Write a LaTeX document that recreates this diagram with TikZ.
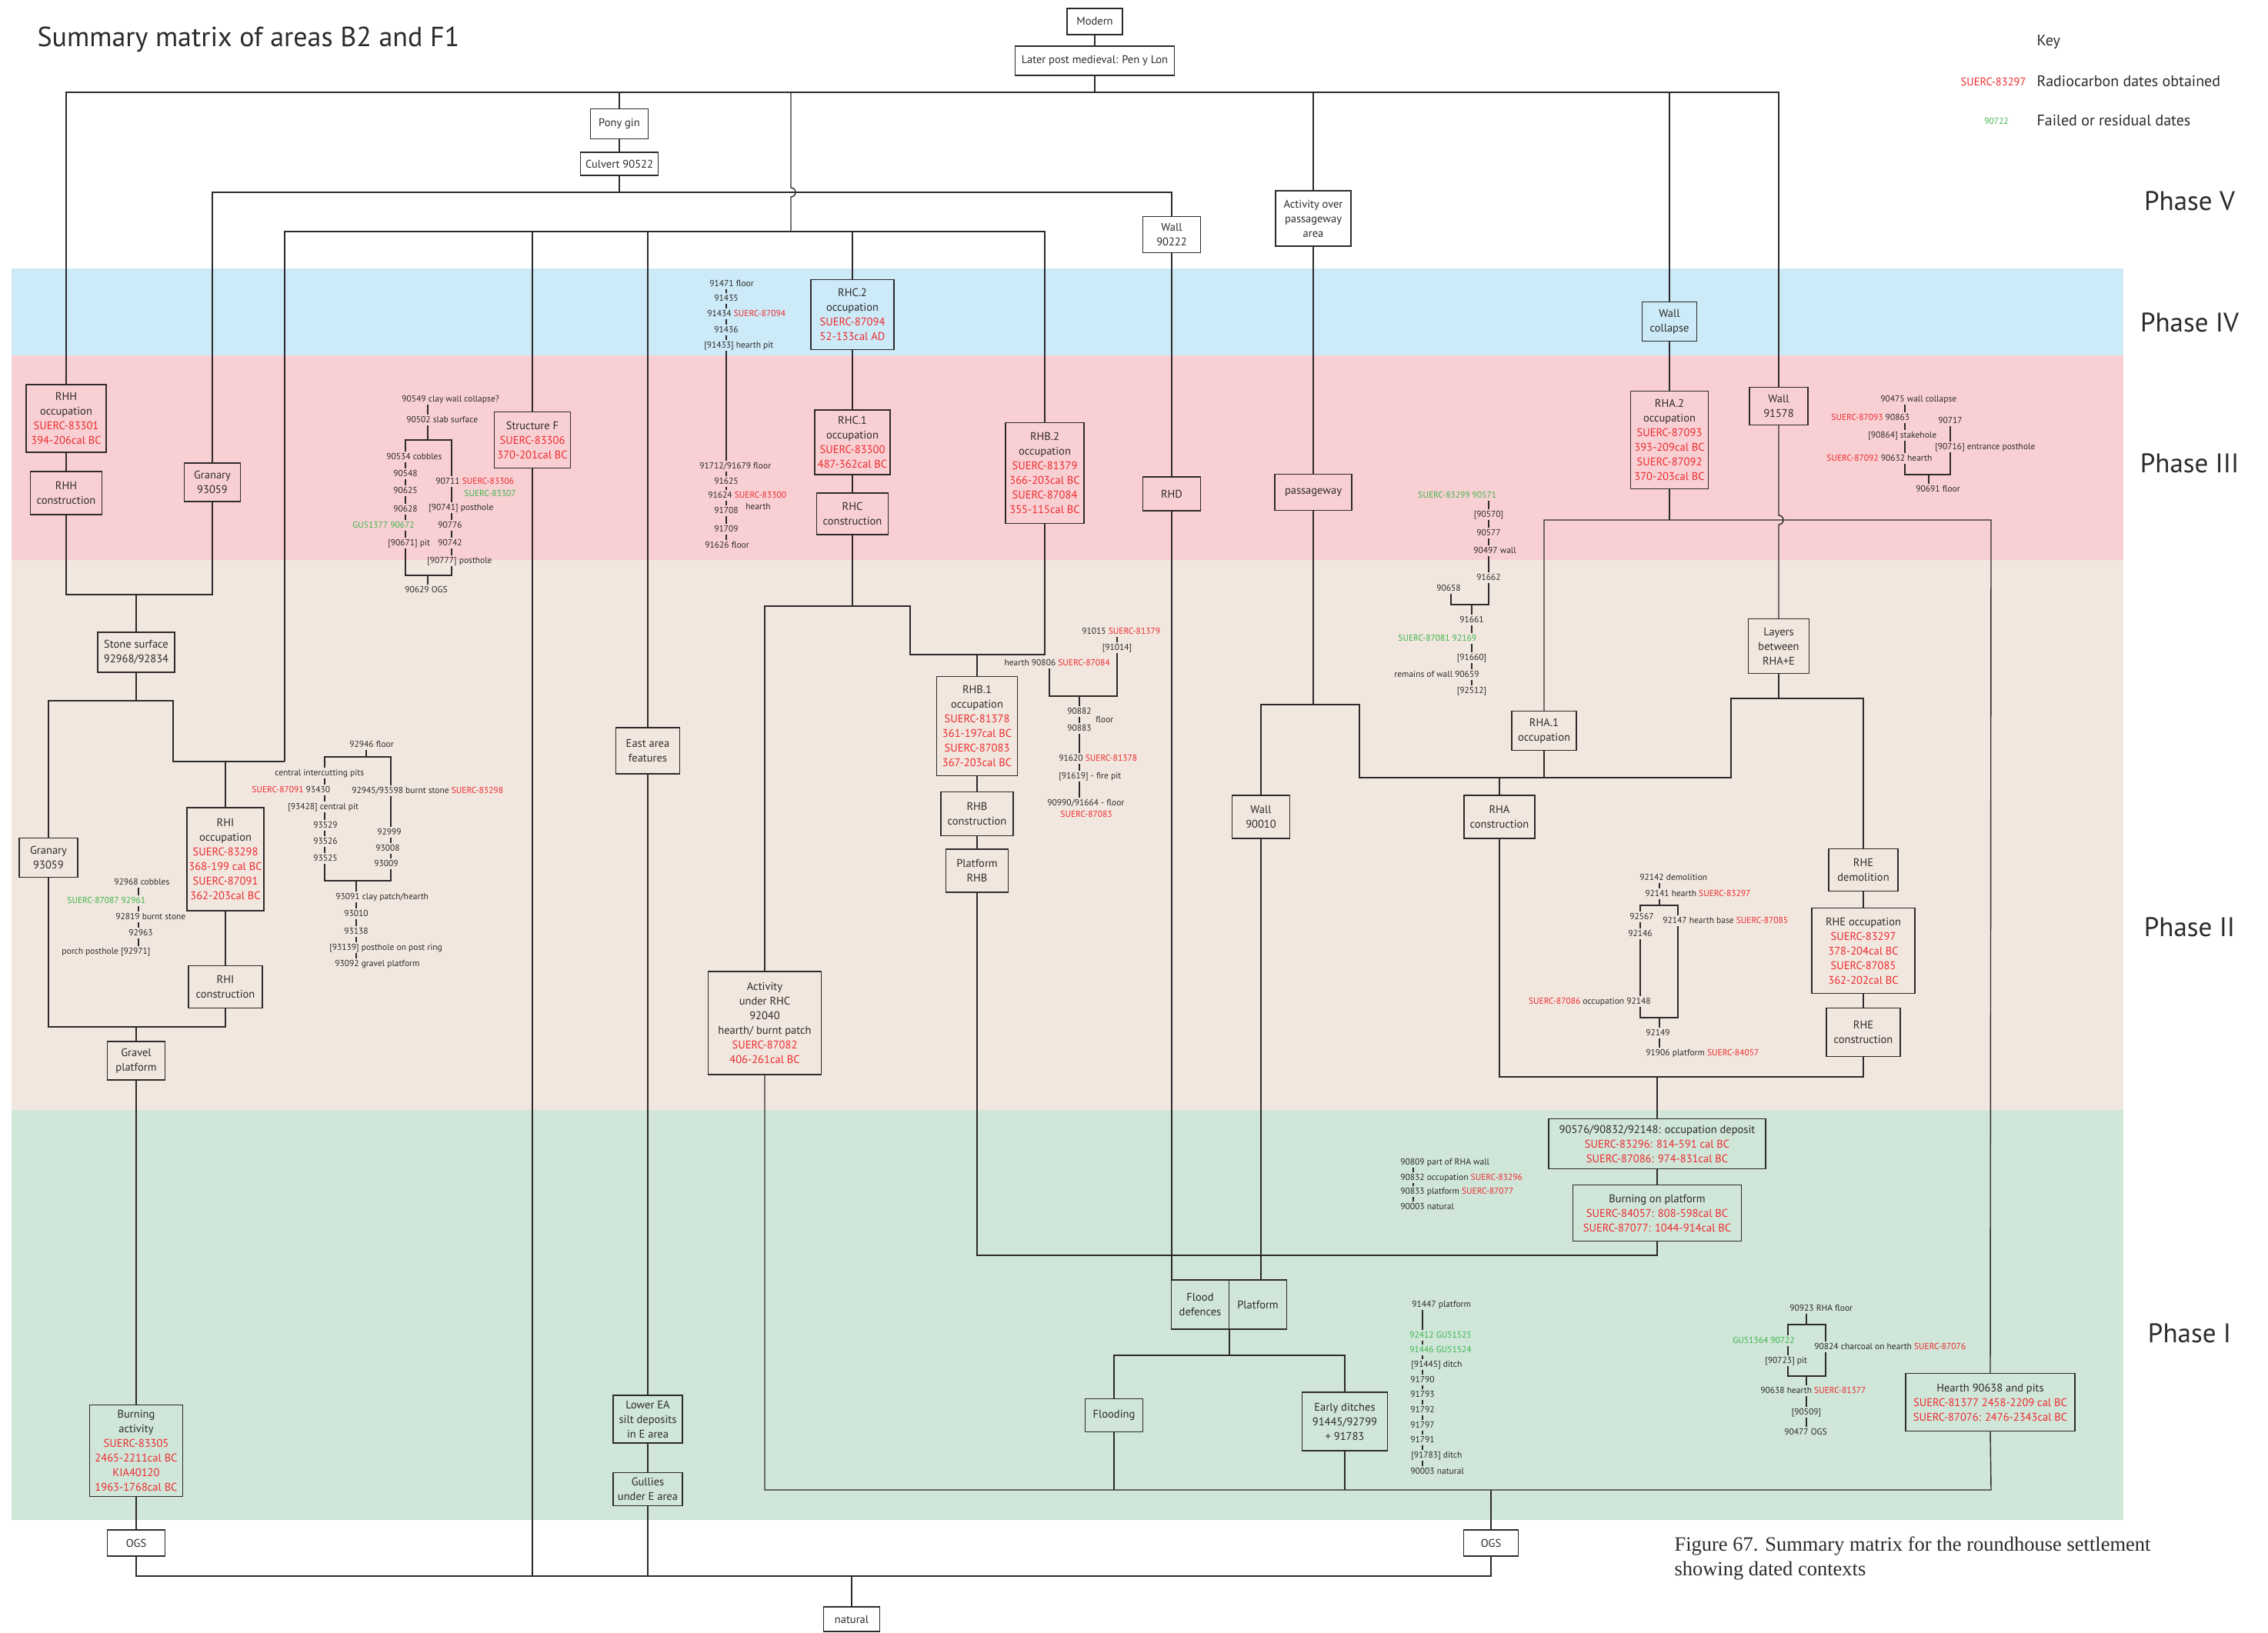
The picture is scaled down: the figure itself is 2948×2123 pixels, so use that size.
\documentclass[tikz,border=0pt]{standalone}
\usepackage{fontspec}
\setmainfont{PT Sans}
\newfontfamily\capfont{Liberation Serif}
\usetikzlibrary{calc}
\definecolor{bandblue}{HTML}{CCEAF7}
\definecolor{bandpink}{HTML}{F8D0D3}
\definecolor{bandbeige}{HTML}{F1E7DF}
\definecolor{bandgreen}{HTML}{CFE6D9}
\definecolor{dred}{HTML}{EE2A2E}
\definecolor{dgreen}{HTML}{3DB54A}
\definecolor{ink}{HTML}{2E2A2B}
\newcommand{\redtx}[1]{\textcolor{dred}{#1}}
\newcommand{\grtx}[1]{\textcolor{dgreen}{#1}}
\newcommand{\vchain}[2]{\foreach \p/\q in {#2}{\draw[lnt] (#1 |- \p.south) -- (#1 |- \q.north);}}
\pgfdeclarelayer{bg}
\pgfsetlayers{bg,main}
\tikzset{
  bx/.style={draw=ink, line width=1.4pt, align=center, text=ink, inner sep=0pt,
    font=\fontsize{14.5}{19}\selectfont},
  sm/.style={font=\fontsize{11.5}{14}\selectfont, text=ink, inner sep=1.2pt,
    text height=8.5pt, text depth=2.5pt},
  ln/.style={draw=ink, line width=1.4pt},
  lnt/.style={draw=ink, line width=1.2pt},
  phase/.style={font=\fontsize{35}{40}\selectfont, text=ink},
}
\begin{document}
\begin{tikzpicture}[x=1pt,y=-1pt]
\useasboundingbox (0,0) rectangle (2948,2123);
\begin{pgfonlayer}{bg}
\fill[white] (0,0) rectangle (2948,2123);
\fill[bandblue] (15,349) rectangle (2760,462);
\fill[bandpink] (15,462) rectangle (2760,728);
\fill[bandbeige] (15,728) rectangle (2760,1443);
\fill[bandgreen] (15,1443) rectangle (2760,1976);
\end{pgfonlayer}

% ---------- titles, key, phases ----------
\node[anchor=west, font=\fontsize{36}{40}\selectfont, text=ink] (title) at (45,51) {Summary matrix of areas B2 and F1};
\node[anchor=west, font=\fontsize{20}{24}\selectfont, text=ink] (key) at (2644,55) {Key};
\node[anchor=west, font=\fontsize{20}{24}\selectfont, text=ink] (keyA) at (2644,106) {Radiocarbon dates obtained};
\node[anchor=west, font=\fontsize{20}{24}\selectfont, text=ink] (keyB) at (2644,157) {Failed or residual dates};
\node[anchor=east, font=\fontsize{14.5}{18}\selectfont, text=dred] (keyAs) at (2637,106) {SUERC-83297};
\node[font=\fontsize{11.5}{14}\selectfont, text=dgreen] (keyBs) at (2595,157) {90722};
\node[phase] (phV) at (2846,261) {Phase V};
\node[phase] (phIV) at (2846,419) {Phase IV};
\node[phase] (phIII) at (2846,602) {Phase III};
\node[phase] (phII) at (2846,1205) {Phase II};
\node[phase] (phI) at (2846,1733) {Phase I};
\node[anchor=west, align=left, font=\capfont\fontsize{26.5}{32}\selectfont, text=ink] (caption) at (2173,2026)
  {Figure 67. Summary matrix for the roundhouse settlement\\showing dated contexts};

% ---------- boxes ----------
\node[bx,minimum width=72,minimum height=34] (modern) at (1423,28) {Modern};
\node[bx,minimum width=207,minimum height=38] (later) at (1423,79) {Later post medieval: Pen y Lon};
\node[bx,minimum width=75,minimum height=39] (ponygin) at (805,161) {Pony gin};
\node[bx,minimum width=101,minimum height=30] (culvert) at (805,213) {Culvert 90522};
\node[bx,minimum width=75,minimum height=47] (wallA) at (1523,305) {Wall\\90222};
\node[bx,minimum width=98,minimum height=72] (actpass) at (1707,284) {Activity over\\passageway\\area};
\node[bx,minimum width=108,minimum height=91] (rhcII) at (1108,409) {RHC.2\\occupation\\\redtx{SUERC-87094}\\\redtx{52-133cal AD}};
\node[bx,minimum width=71,minimum height=51] (wallcol) at (2170,418) {Wall\\collapse};
\node[bx,minimum width=104,minimum height=88] (rhhocc) at (86,544) {RHH\\occupation\\\redtx{SUERC-83301}\\\redtx{394-206cal BC}};
\node[bx,minimum width=93,minimum height=56] (rhhcon) at (86,641) {RHH\\construction};
\node[bx,minimum width=73,minimum height=50] (granA) at (276,627) {Granary\\93059};
\node[bx,minimum width=99,minimum height=73] (strF) at (692,572) {Structure F\\\redtx{SUERC-83306}\\\redtx{370-201cal BC}};
\node[bx,minimum width=98,minimum height=84] (rhcI) at (1108,575) {RHC.1\\occupation\\\redtx{SUERC-83300}\\\redtx{487-362cal BC}};
\node[bx,minimum width=93,minimum height=54] (rhccon) at (1108,668) {RHC\\construction};
\node[bx,minimum width=102,minimum height=131] (rhbII) at (1358,615) {RHB.2\\occupation\\\redtx{SUERC-81379}\\\redtx{366-203cal BC}\\\redtx{SUERC-87084}\\\redtx{355-115cal BC}};
\node[bx,minimum width=75,minimum height=44] (rhd) at (1523,642) {RHD};
\node[bx,minimum width=100,minimum height=47] (passage) at (1707,640) {passageway};
\node[bx,minimum width=101,minimum height=127] (rhaII) at (2170,572) {RHA.2\\occupation\\\redtx{SUERC-87093}\\\redtx{393-209cal BC}\\\redtx{SUERC-87092}\\\redtx{370-203cal BC}};
\node[bx,minimum width=76,minimum height=49] (wallB) at (2312,528) {Wall\\91578};
\node[bx,minimum width=100,minimum height=52] (stone) at (177,848) {Stone surface\\92968/92834};
\node[bx,minimum width=76,minimum height=51] (granB) at (63,1115) {Granary\\93059};
\node[bx,minimum width=100,minimum height=134] (rhiocc) at (293,1117) {RHI\\occupation\\\redtx{SUERC-83298}\\\redtx{368-199 cal BC}\\\redtx{SUERC-87091}\\\redtx{362-203cal BC}};
\node[bx,minimum width=96,minimum height=55] (rhicon) at (293,1283) {RHI\\construction};
\node[bx,minimum width=75,minimum height=50] (gravel) at (177,1379) {Gravel\\platform};
\node[bx,minimum width=83,minimum height=60] (eaf) at (842,976) {East area\\features};
\node[bx,minimum width=147,minimum height=134] (actrhc) at (994,1330) {Activity\\under RHC\\92040\\hearth/ burnt patch\\\redtx{SUERC-87082}\\\redtx{406-261cal BC}};
\node[bx,minimum width=105,minimum height=129] (rhbI) at (1270,944) {RHB.1\\occupation\\\redtx{SUERC-81378}\\\redtx{361-197cal BC}\\\redtx{SUERC-87083}\\\redtx{367-203cal BC}};
\node[bx,minimum width=94,minimum height=57] (rhbcon) at (1270,1058) {RHB\\construction};
\node[bx,minimum width=81,minimum height=56] (platrhb) at (1270,1132) {Platform\\RHB};
\node[bx,minimum width=75,minimum height=56] (wallC) at (1639,1062) {Wall\\90010};
\node[bx,minimum width=84,minimum height=51] (rhaI) at (2007,950) {RHA.1\\occupation};
\node[bx,minimum width=92,minimum height=56] (rhacon) at (1949,1062) {RHA\\construction};
\node[bx,minimum width=79,minimum height=71] (layers) at (2312,840) {Layers\\between\\RHA+E};
\node[bx,minimum width=90,minimum height=55] (rhedem) at (2422,1131) {RHE\\demolition};
\node[bx,minimum width=134,minimum height=111] (rheocc) at (2422,1236) {RHE occupation\\\redtx{SUERC-83297}\\\redtx{378-204cal BC}\\\redtx{SUERC-87085}\\\redtx{362-202cal BC}};
\node[bx,minimum width=96,minimum height=63] (rhecon) at (2422,1342) {RHE\\construction};
\node[bx,minimum width=282,minimum height=65] (occdep) at (2154,1487) {90576/90832/92148: occupation deposit\\\redtx{SUERC-83296: 814-591 cal BC}\\\redtx{SUERC-87086: 974-831cal BC}};
\node[bx,minimum width=219,minimum height=73] (burnplat) at (2154,1577) {Burning on platform\\\redtx{SUERC-84057: 808-598cal BC}\\\redtx{SUERC-87077: 1044-914cal BC}};
\node[bx,minimum width=75,minimum height=64] (flood) at (1560,1696) {Flood\\defences};
\node[bx,minimum width=75,minimum height=64] (platf) at (1635,1696) {Platform};
\node[bx,minimum width=75,minimum height=43] (flooding) at (1448,1840) {Flooding};
\node[bx,minimum width=111,minimum height=76] (earlyd) at (1748,1848) {Early ditches\\91445/92799\\+ 91783};
\node[bx,minimum width=220,minimum height=75] (hearth) at (2587,1823) {Hearth 90638 and pits\\\redtx{SUERC-81377 2458-2209 cal BC}\\\redtx{SUERC-87076: 2476-2343cal BC}};
\node[bx,minimum width=121,minimum height=119] (burnact) at (177,1886) {Burning\\activity\\\redtx{SUERC-83305}\\\redtx{2465-2211cal BC}\\\redtx{KIA40120}\\\redtx{1963-1768cal BC}};
\node[bx,minimum width=90,minimum height=62] (lowerEA) at (842,1845) {Lower EA\\silt deposits\\in E area};
\node[bx,minimum width=90,minimum height=43] (gullies) at (842,1936) {Gullies\\under E area};
\node[bx,minimum width=75,minimum height=34] (ogsL) at (177,2006) {OGS};
\node[bx,minimum width=71,minimum height=34] (ogsR) at (1938,2006) {OGS};
\node[bx,minimum width=73,minimum height=32] (natural) at (1107,2105) {natural};

% ---------- small lists ----------
\node[sm,anchor=west] (a1) at (521,519) {90549 clay wall collapse?};
\node[sm,anchor=west] (a2) at (527,546) {90502 slab surface};
\node[sm,anchor=west] (a3) at (501,594) {90534 cobbles};
\node[sm] (a4) at (527,616) {90548};
\node[sm] (a5) at (527,638) {90625};
\node[sm] (a6) at (527,662) {90628};
\node[sm,anchor=west] (a7) at (457,683) {\grtx{GU51377 90672}};
\node[sm,anchor=west] (a8) at (503,706) {[90671] pit};
\node[sm,anchor=west] (a9) at (565,626) {90711 \redtx{SUERC-83306}};
\node[sm,anchor=west] (a10) at (602,642) {\grtx{SUERC-83307}};
\node[sm,anchor=west] (a11) at (556,660) {[90741] posthole};
\node[sm] (a12) at (585,683) {90776};
\node[sm] (a13) at (585,706) {90742};
\node[sm,anchor=west] (a14) at (554,729) {[90777] posthole};
\node[sm,anchor=west] (a15) at (525,767) {90629 OGS};
\node[sm,anchor=west] (b1) at (921,369) {91471 floor};
\node[sm] (b2) at (944,388) {91435};
\node[sm,anchor=west] (b3) at (918,408) {91434 \redtx{SUERC-87094}};
\node[sm] (b4) at (944,429) {91436};
\node[sm,anchor=west] (b5) at (914,449) {[91433] hearth pit};
\node[sm,anchor=west] (b6) at (908,606) {91712/91679 floor};
\node[sm] (b7) at (944,626) {91625};
\node[sm,anchor=west] (b8) at (919,644) {91624 \redtx{SUERC-83300}};
\node[sm,anchor=west] (b9) at (968,659) {hearth};
\node[sm] (b10) at (944,664) {91708};
\node[sm] (b11) at (944,688) {91709};
\node[sm,anchor=west] (b12) at (915,709) {91626 floor};
\node[sm,anchor=west] (c1) at (1405,821) {91015 \redtx{SUERC-81379}};
\node[sm] (c2) at (1452,842) {[91014]};
\node[sm,anchor=east] (c3) at (1444,862) {hearth 90806 \redtx{SUERC-87084}};
\node[sm] (c4) at (1403,925) {90882};
\node[sm,anchor=west] (c5) at (1423,936) {floor};
\node[sm] (c6) at (1403,947) {90883};
\node[sm,anchor=west] (c7) at (1375,986) {91620 \redtx{SUERC-81378}};
\node[sm,anchor=west] (c8) at (1375,1009) {[91619] - fire pit};
\node[sm,anchor=west] (c9) at (1360,1044) {90990/91664 - floor};
\node[sm,anchor=west] (c10) at (1377,1059) {\redtx{SUERC-87083}};
\node[sm,anchor=west] (d1) at (1842,644) {\grtx{SUERC-83299 90571}};
\node[sm] (d2) at (1935,669) {[90570]};
\node[sm] (d3) at (1935,693) {90577};
\node[sm,anchor=west] (d4) at (1914,716) {90497 wall};
\node[sm] (d5) at (1935,751) {91662};
\node[sm] (d6) at (1883,765) {90658};
\node[sm] (d7) at (1913,806) {91661};
\node[sm,anchor=west] (d8) at (1816,830) {\grtx{SUERC-87081 92169}};
\node[sm] (d9) at (1913,855) {[91660]};
\node[sm,anchor=west] (d10) at (1811,877) {remains of wall 90659};
\node[sm] (d11) at (1913,898) {[92512]};
\node[sm,anchor=west] (e1) at (2443,519) {90475 wall collapse};
\node[sm,anchor=west] (e2) at (2379,543) {\redtx{SUERC-87093} 90863};
\node[sm] (e3) at (2535,547) {90717};
\node[sm,anchor=west] (e4) at (2427,566) {[90864] stakehole};
\node[sm,anchor=west] (e5) at (2514,581) {[90716] entrance posthole};
\node[sm,anchor=west] (e6) at (2373,596) {\redtx{SUERC-87092} 90632 hearth};
\node[sm,anchor=west] (e7) at (2489,636) {90691 floor};
\node[sm,anchor=west] (f1) at (453,968) {92946 floor};
\node[sm,anchor=west] (f2) at (356,1005) {central intercutting pits};
\node[sm,anchor=west] (f3) at (326,1027) {\redtx{SUERC-87091} 93430};
\node[sm,anchor=west] (f4) at (373,1049) {[93428] central pit};
\node[sm] (f5) at (423,1073) {93529};
\node[sm] (f6) at (423,1094) {93526};
\node[sm] (f7) at (423,1116) {93525};
\node[sm,anchor=west] (f8) at (456,1028) {92945/93598 burnt stone \redtx{SUERC-83298}};
\node[sm] (f9) at (506,1082) {92999};
\node[sm] (f10) at (504,1103) {93008};
\node[sm] (f11) at (502,1123) {93009};
\node[sm,anchor=west] (g1) at (435,1166) {93091 clay patch/hearth};
\node[sm] (g2) at (463,1188) {93010};
\node[sm] (g3) at (463,1211) {93138};
\node[sm,anchor=west] (g4) at (427,1232) {[93139] posthole on post ring};
\node[sm,anchor=west] (g5) at (434,1253) {93092 gravel platform};
\node[sm,anchor=west] (h1) at (147,1147) {92968 cobbles};
\node[sm,anchor=west] (h2) at (86,1171) {\grtx{SUERC-87087 92961}};
\node[sm,anchor=west] (h3) at (149,1192) {92819 burnt stone};
\node[sm,anchor=west] (h4) at (166,1213) {92963};
\node[sm,anchor=west] (h5) at (79,1237) {porch posthole [92971]};
\node[sm,anchor=west] (i1) at (2130,1141) {92142 demolition};
\node[sm,anchor=west] (i2) at (2137,1162) {92141 hearth \redtx{SUERC-83297}};
\node[sm] (i3) at (2134,1192) {92567};
\node[sm] (i4) at (2132,1214) {92146};
\node[sm,anchor=east] (i5) at (2147,1302) {\redtx{SUERC-87086} occupation 92148};
\node[sm,anchor=west] (i6) at (2160,1197) {92147 hearth base \redtx{SUERC-87085}};
\node[sm] (i7) at (2155,1343) {92149};
\node[sm,anchor=west] (i8) at (2138,1369) {91906 platform \redtx{SUERC-84057}};
\node[sm,anchor=west] (j1) at (1819,1511) {90809 part of RHA wall};
\node[sm,anchor=west] (j2) at (1819,1531) {90832 occupation \redtx{SUERC-83296}};
\node[sm,anchor=west] (j3) at (1819,1549) {90833 platform \redtx{SUERC-87077}};
\node[sm,anchor=west] (j4) at (1819,1569) {90003 natural};
\node[sm,anchor=west] (k1) at (1834,1696) {91447 platform};
\node[sm,anchor=west] (k2) at (1831,1736) {\grtx{92412 GU51525}};
\node[sm,anchor=west] (k3) at (1831,1755) {\grtx{91446 GU51524}};
\node[sm,anchor=west] (k4) at (1833,1774) {[91445] ditch};
\node[sm,anchor=west] (k5) at (1832,1794) {91790};
\node[sm,anchor=west] (k6) at (1832,1813) {91793};
\node[sm,anchor=west] (k7) at (1832,1833) {91792};
\node[sm,anchor=west] (k8) at (1832,1853) {91797};
\node[sm,anchor=west] (k9) at (1832,1872) {91791};
\node[sm,anchor=west] (k10) at (1833,1892) {[91783] ditch};
\node[sm,anchor=west] (k11) at (1832,1913) {90003 natural};
\node[sm,anchor=west] (m1) at (2325,1701) {90923 RHA floor};
\node[sm,anchor=west] (m2) at (2251,1743) {\grtx{GU51364 90722}};
\node[sm,anchor=west] (m3) at (2293,1769) {[90723] pit};
\node[sm,anchor=west] (m4) at (2357,1751) {90824 charcoal on hearth \redtx{SUERC-87076}};
\node[sm,anchor=west] (m5) at (2287,1808) {90638 hearth \redtx{SUERC-81377}};
\node[sm] (m6) at (2348,1836) {[90509]};
\node[sm,anchor=west] (m7) at (2318,1862) {90477 OGS};

% ---------- helper coordinates ----------
\foreach \n/\v in {Y120/120,Y250/250,Y301/301,Y773/773,Y911/911,Y990/990,Y1335/1335,Y2049/2049,
  Y788/788,Y851/851,Y1632/1632,Y1937/1937,Y916/916,Y1011/1011,Y676/676,Y908/908,Y1400/1400,Y1762/1762,
  yaT/572,yaB/748,ycB/905,ydB/786,ye/617,yfT/984,yfB/1145,yiT/1177,yiB/1323,ymT/1722,ymB/1789}
  {\coordinate (\n) at (0,\v);}
\foreach \n/\v in {X1028/1028,X370/370,X225/225,X1183/1183,X1767/1767,X2250/2250,X2588/2588,X1598/1598,
  xa/556,xaL/527,xaR/587,xb/944,xc/1403,xcL/1364,xcR/1452,xd1/1935,xdL/1886,xd2/1913,
  xeL/2476,xeR/2535,xe/2507,xf/476,xfL/422,xfR/508,xg/463,xh/180,xi/2157,xiL/2132,xiR/2181,
  xj/1837,xk/1849,xm/2348,xmL/2324,xmR/2373}
  {\coordinate (\n) at (\v,0);}

% ---------- main connectors ----------
\draw[ln] (modern) -- (later);
\draw[ln] (later.south) -- (later.south |- Y120);
\draw[ln] (rhhocc.north) -- (rhhocc.north |- Y120) -- (wallB.north |- Y120) -- (wallB.north);
\draw[ln] (ponygin.north |- Y120) -- (ponygin.north);
\draw[ln] (actpass.north |- Y120) -- (actpass.north);
\draw[ln] (wallcol.north |- Y120) -- (wallcol.north);
\draw[ln] (X1028 |- Y120) -- ($(X1028 |- Y250)+(0,-6)$) arc[start angle=-90,end angle=90,radius=6] -- (X1028 |- Y301);
\draw[ln] (ponygin) -- (culvert);
\draw[ln] (culvert.south) -- (culvert.south |- Y250);
\draw[ln] (granA.north) -- (granA.north |- Y250) -- (wallA.north |- Y250) -- (wallA.north);
\draw[ln] (X370 |- Y990) -- (X370 |- Y301) -- (rhbII.north |- Y301) -- (rhbII.north);
\draw[ln] (strF.north |- Y301) -- (strF.north);
\draw[ln] (eaf.north |- Y301) -- (eaf.north);
\draw[ln] (rhcII.north |- Y301) -- (rhcII.north);
\draw[ln] (rhhocc) -- (rhhcon);
\draw[ln] (rhhcon.south) -- (rhhcon.south |- Y773) -- (granA.south |- Y773) -- (granA.south);
\draw[ln] (stone.north |- Y773) -- (stone.north);
\draw[ln] (stone.south) -- (stone.south |- Y911);
\draw[ln] (granB.north) -- (granB.north |- Y911) -- (X225 |- Y911) -- (X225 |- Y990) -- (X370 |- Y990);
\draw[ln] (rhiocc.north |- Y990) -- (rhiocc.north);
\draw[ln] (rhiocc) -- (rhicon);
\draw[ln] (granB.south) -- (granB.south |- Y1335) -- (rhicon.south |- Y1335) -- (rhicon.south);
\draw[ln] (gravel.north |- Y1335) -- (gravel.north);
\draw[ln] (gravel) -- (burnact);
\draw[ln] (burnact) -- (ogsL);
\draw[ln] (ogsL.south) -- (ogsL.south |- Y2049) -- (ogsR.south |- Y2049) -- (ogsR.south);
\draw[ln] (natural.north) -- (natural.north |- Y2049);
\draw[ln] (strF.south) -- (strF.south |- Y2049);
\draw[ln] (eaf) -- (lowerEA);
\draw[ln] (lowerEA) -- (gullies);
\draw[ln] (gullies.south) -- (gullies.south |- Y2049);
\draw[ln] (rhcII) -- (rhcI);
\draw[ln] (rhcI) -- (rhccon);
\draw[ln] (rhccon.south) -- (rhccon.south |- Y788);
\draw[ln] (actrhc.north) -- (actrhc.north |- Y788) -- (X1183 |- Y788) -- (X1183 |- Y851) -- (rhbII.south |- Y851) -- (rhbII.south);
\draw[ln] (rhbI.north |- Y851) -- (rhbI.north);
\draw[ln] (rhbI) -- (rhbcon);
\draw[ln] (rhbcon) -- (platrhb);
\draw[ln] (platrhb.south) -- (platrhb.south |- Y1632) -- (burnplat.south |- Y1632) -- (burnplat.south);
\draw[ln] (occdep) -- (burnplat);
\draw[ln] (actrhc.south) -- (actrhc.south |- Y1937) -- (X2588 |- Y1937) -- (hearth.south);
\draw[ln] (flooding.south) -- (flooding.south |- Y1937);
\draw[ln] (earlyd.south) -- (earlyd.south |- Y1937);
\draw[ln] (ogsR.north) -- (ogsR.north |- Y1937);
\draw[ln] (wallA) -- (rhd);
\draw[ln] (rhd.south) -- (rhd.south |- flood.north);
\draw[ln] (actpass) -- (passage);
\draw[ln] (passage.south) -- (passage.south |- Y916);
\draw[ln] (wallC.north) -- (wallC.north |- Y916) -- (X1767 |- Y916) -- (X1767 |- Y1011) -- (X2250 |- Y1011) -- (X2250 |- Y908) -- (rhedem.north |- Y908) -- (rhedem.north);
\draw[ln] (layers.south) -- (layers.south |- Y908);
\draw[ln] (rhaI.south) -- (rhaI.south |- Y1011);
\draw[ln] (rhacon.north) -- (rhacon.north |- Y1011);
\draw[ln] (wallC.south) -- (wallC.south |- platf.north);
\draw[ln] (rhaI.north) -- (rhaI.north |- Y676) -- (X2588 |- Y676) -- (hearth.north);
\draw[ln] (rhaII.south) -- (rhaII.south |- Y676);
\draw[ln] (wallB.south) -- ($(wallB.south |- Y676)+(0,-6)$) arc[start angle=-90,end angle=90,radius=6] -- (layers.north);
\draw[ln] (wallcol) -- (rhaII);
\draw[ln] (rhedem) -- (rheocc);
\draw[ln] (rheocc) -- (rhecon);
\draw[ln] (rhecon.south) -- (rhecon.south |- Y1400) -- (rhacon.south |- Y1400) -- (rhacon.south);
\draw[ln] (occdep.north |- Y1400) -- (occdep.north);
\draw[ln] (X1598 |- flood.south) -- (X1598 |- Y1762);
\draw[ln] (flooding.north) -- (flooding.north |- Y1762) -- (earlyd.north |- Y1762) -- (earlyd.north);

% ---------- list connectors ----------
\vchain{xa}{a1/a2}
\draw[lnt] (xa |- a2.south) -- (xa |- yaT);
\draw[lnt] (xaL |- a3.north) -- (xaL |- yaT) -- (xaR |- yaT) -- (xaR |- a9.north);
\vchain{xaL}{a3/a4,a4/a5,a5/a6,a6/a7,a7/a8}
\vchain{xaR}{a9/a11,a11/a12,a12/a13,a13/a14}
\draw[lnt] (xaL |- a8.south) -- (xaL |- yaB) -- (xaR |- yaB) -- (xaR |- a14.south);
\draw[lnt] (xa |- yaB) -- (xa |- a15.north);

\vchain{xb}{b1/b2,b2/b3,b3/b4,b4/b5,b5/b6,b6/b7,b7/b8,b8/b10,b10/b11,b11/b12}

\vchain{xcR}{c1/c2}
\draw[lnt] (xcL |- c3.south) -- (xcL |- ycB) -- (xcR |- ycB) -- (xcR |- c2.south);
\draw[lnt] (xc |- ycB) -- (xc |- c4.north);
\vchain{xc}{c4/c6,c6/c7,c7/c8,c8/c9}

\vchain{xd1}{d1/d2,d2/d3,d3/d4,d4/d5}
\draw[lnt] (xdL |- d6.south) -- (xdL |- ydB) -- (xd1 |- ydB) -- (xd1 |- d5.south);
\draw[lnt] (xd2 |- ydB) -- (xd2 |- d7.north);
\vchain{xd2}{d7/d8,d8/d9,d9/d10,d10/d11}

\vchain{xeL}{e1/e2,e2/e4,e4/e6}
\vchain{xeR}{e3/e5}
\draw[lnt] (xeL |- e6.south) -- (xeL |- ye) -- (xeR |- ye) -- (xeR |- e5.south);
\draw[lnt] (xe |- ye) -- (xe |- e7.north);

\draw[lnt] (xf |- f1.south) -- (xf |- yfT);
\draw[lnt] (xfL |- f2.north) -- (xfL |- yfT) -- (xfR |- yfT) -- (xfR |- f8.north);
\vchain{xfL}{f2/f3,f3/f4,f4/f5,f5/f6,f6/f7}
\vchain{xfR}{f8/f9,f9/f10,f10/f11}
\draw[lnt] (xfL |- f7.south) -- (xfL |- yfB) -- (xfR |- yfB) -- (xfR |- f11.south);
\draw[lnt] (xg |- yfB) -- (xg |- g1.north);
\vchain{xg}{g1/g2,g2/g3,g3/g4,g4/g5}

\vchain{xh}{h1/h2,h2/h3,h3/h4,h4/h5}

\vchain{xi}{i1/i2}
\draw[lnt] (xi |- i2.south) -- (xi |- yiT);
\draw[lnt] (xiL |- i3.north) -- (xiL |- yiT) -- (xiR |- yiT) -- (xiR |- i6.north);
\vchain{xiL}{i3/i4,i4/i5}
\draw[lnt] (xiL |- i5.south) -- (xiL |- yiB) -- (xiR |- yiB) -- (xiR |- i6.south);
\draw[lnt] (xi |- yiB) -- (xi |- i7.north);
\vchain{xi}{i7/i8}

\vchain{xj}{j1/j2,j2/j3,j3/j4}
\vchain{xk}{k1/k2,k2/k3,k3/k4,k4/k5,k5/k6,k6/k7,k7/k8,k8/k9,k9/k10,k10/k11}

\draw[lnt] (xm |- m1.south) -- (xm |- ymT);
\draw[lnt] (xmL |- m2.north) -- (xmL |- ymT) -- (xmR |- ymT) -- (xmR |- m4.north);
\vchain{xmL}{m2/m3}
\draw[lnt] (xmL |- m3.south) -- (xmL |- ymB) -- (xmR |- ymB) -- (xmR |- m4.south);
\draw[lnt] (xm |- ymB) -- (xm |- m5.north);
\vchain{xm}{m5/m6,m6/m7}
\end{tikzpicture}
\end{document}
